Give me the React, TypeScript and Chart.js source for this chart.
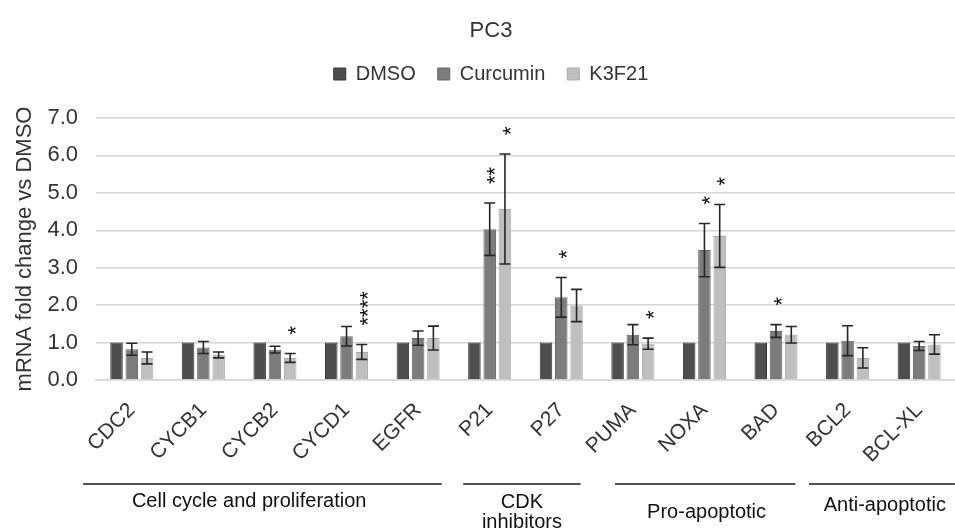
import React, { useEffect, useRef } from "react";
import { Chart, registerables } from "chart.js";

Chart.register(...registerables);

// ---- data ----
const genes = ["CDC2", "CYCB1", "CYCB2", "CYCD1", "EGFR", "P21", "P27", "PUMA", "NOXA", "BAD", "BCL2", "BCL-XL"];
const dmso = [1, 1, 1, 1, 1, 1, 1, 1, 1, 1, 1, 1];
const curcumin = [0.82, 0.87, 0.81, 1.17, 1.12, 4.03, 2.21, 1.21, 3.47, 1.31, 1.05, 0.91];
const curcuminErr = [0.16, 0.16, 0.09, 0.26, 0.19, 0.7, 0.53, 0.27, 0.71, 0.17, 0.4, 0.12];
const k3f21 = [0.59, 0.67, 0.59, 0.75, 1.12, 4.57, 1.99, 0.97, 3.85, 1.21, 0.59, 0.95];
const k3f21Err = [0.16, 0.08, 0.12, 0.2, 0.32, 1.47, 0.43, 0.15, 0.84, 0.22, 0.27, 0.26];
const curcuminSig = ["", "", "", "", "", "**", "*", "", "*", "*", "", ""];
const k3f21Sig = ["", "", "*", "****", "", "*", "", "*", "*", "", "", ""];
const yMin = 0;
const yMax = 7;
const yStep = 1;

// gene groups (category index spans)
const groupNames = ["Cell cycle and proliferation", "CDK\ninhibitors", "Pro-apoptotic", "Anti-apoptotic"];
const groupStart = [-0.68, 4.63, 6.75, 9.46];
const groupEnd = [4.33, 6.27, 9.27, 11.5];
const groupLabelAt = [1.64, 5.45, 8.03, 10.52];
const groupLabelDy = [121, 122, 132, 125];

const FONT = "'Liberation Sans', Arial, sans-serif";
const TEXT = "#333333";

const errorBarPlugin = {
  id: "errorBars",
  afterDatasetsDraw(chart: any) {
    const ctx = chart.ctx;
    const y = chart.scales.y;
    ctx.save();
    chart.data.datasets.forEach((ds: any, di: number) => {
      if (!ds.errors) return;
      const meta = chart.getDatasetMeta(di);
      meta.data.forEach((bar: any, i: number) => {
        const v = ds.data[i];
        const e = ds.errors[i];
        const x = bar.x;
        const top = y.getPixelForValue(v + e);
        const bot = y.getPixelForValue(v - e);
        const hw = 5.5;
        ctx.strokeStyle = "#262626";
        ctx.lineWidth = 1.6;
        ctx.beginPath();
        ctx.moveTo(x, top);
        ctx.lineTo(x, bot);
        ctx.moveTo(x - hw, top);
        ctx.lineTo(x + hw, top);
        ctx.moveTo(x - hw, bot);
        ctx.lineTo(x + hw, bot);
        ctx.stroke();
        const sig = ds.sig ? ds.sig[i] : "";
        if (sig) {
          const fs = 22;
          ctx.save();
          ctx.font = `${fs}px ${FONT}`;
          ctx.fillStyle = "#111";
          ctx.translate(x + 0.58 * fs, top - 19);
          ctx.rotate(-Math.PI / 2);
          ctx.textAlign = "left";
          ctx.textBaseline = "alphabetic";
          ctx.fillText(sig, 0, 0);
          ctx.restore();
        }
      });
    });
    ctx.restore();
  },
};

const groupPlugin = {
  id: "geneGroups",
  afterDraw(chart: any) {
    const ctx = chart.ctx;
    const xs = chart.scales.x;
    const base = chart.chartArea.bottom;
    ctx.save();
    groupNames.forEach((name, i) => {
      const x1 = xs.getPixelForValue(groupStart[i]);
      const x2 = xs.getPixelForValue(groupEnd[i]);
      const ly = base + 104;
      ctx.strokeStyle = "#1a1a1a";
      ctx.lineWidth = 1.6;
      ctx.beginPath();
      ctx.moveTo(x1, ly);
      ctx.lineTo(x2, ly);
      ctx.stroke();
      ctx.font = `20px ${FONT}`;
      ctx.fillStyle = "#111";
      ctx.textAlign = "center";
      ctx.textBaseline = "middle";
      const lines = name.split("\n");
      const cx = xs.getPixelForValue(groupLabelAt[i]);
      lines.forEach((ln, k) => {
        ctx.fillText(ln, cx, base + groupLabelDy[i] + k * 20);
      });
    });
    ctx.restore();
  },
};

export default function App() {
  const ref = useRef<HTMLCanvasElement | null>(null);

  useEffect(() => {
    if (!ref.current) return;
    const chart = new Chart(ref.current, {
      type: "bar",
      data: {
        labels: genes,
        datasets: [
          {
            label: "DMSO",
            data: dmso,
            backgroundColor: "#4e4e4e",
            borderColor: "#363636",
            borderWidth: 1,
          },
          {
            label: "Curcumin",
            data: curcumin,
            backgroundColor: "#7c7c7c",
            borderColor: "#666666",
            borderWidth: 1,
            errors: curcuminErr,
            sig: curcuminSig,
          } as any,
          {
            label: "K3F21",
            data: k3f21,
            backgroundColor: "#bfbfbf",
            borderColor: "#ababab",
            borderWidth: 1,
            errors: k3f21Err,
            sig: k3f21Sig,
          } as any,
        ],
      },
      options: {
        animation: false,
        responsive: false,
        maintainAspectRatio: false,
        layout: { padding: { left: 27, right: 0, top: 0, bottom: 0 } },
        datasets: {
          bar: { categoryPercentage: 0.64, barPercentage: 0.82 },
        },
        plugins: {
          title: {
            display: true,
            text: "PC3",
            color: TEXT,
            font: { family: FONT, size: 22, weight: "normal", lineHeight: 1 },
            padding: { top: 20, bottom: 0 },
          },
          subtitle: {
            display: true,
            text: "",
            weight: 500,
            font: { family: FONT, size: 1, lineHeight: 1 },
            padding: { top: 0, bottom: 23 },
          } as any,
          legend: {
            display: true,
            position: "top",
            labels: {
              boxWidth: 12,
              boxHeight: 12,
              color: TEXT,
              padding: 22,
              font: { family: FONT, size: 20 },
            },
          },
          tooltip: { enabled: false },
        },
        scales: {
          x: {
            grid: { display: false, drawTicks: false },
            border: { display: true, color: "#d6d6d6", width: 1.5 },
            ticks: {
              color: TEXT,
              font: { family: FONT, size: 21 },
              maxRotation: 45,
              minRotation: 45,
              padding: 18,
              autoSkip: false,
            },
            afterFit: (s: any) => {
              s.height = 152;
            },
          },
          y: {
            min: yMin,
            max: yMax,
            grid: { color: "#d6d6d6", lineWidth: 1.5, drawTicks: false },
            border: { display: false },
            ticks: {
              stepSize: yStep,
              color: TEXT,
              font: { family: FONT, size: 22 },
              padding: 18,
              callback: (v: any) => Number(v).toFixed(1),
            },
            title: {
              display: true,
              text: "mRNA fold change vs DMSO",
              color: TEXT,
              font: { family: FONT, size: 22 },
              padding: { top: -15, bottom: 0 },
            },
            afterFit: (s: any) => {
              s.width = 69;
            },
          },
        },
      },
      plugins: [errorBarPlugin, groupPlugin],
    });
    return () => chart.destroy();
  }, []);

  return (
    <div
      style={{
        position: "fixed",
        left: 0,
        top: 0,
        width: 955,
        height: 532,
        overflow: "hidden",
        background: "#fff",
      }}
    >
      <canvas ref={ref} width={955} height={532} style={{ width: 955, height: 532, display: "block" }} />
    </div>
  );
}
